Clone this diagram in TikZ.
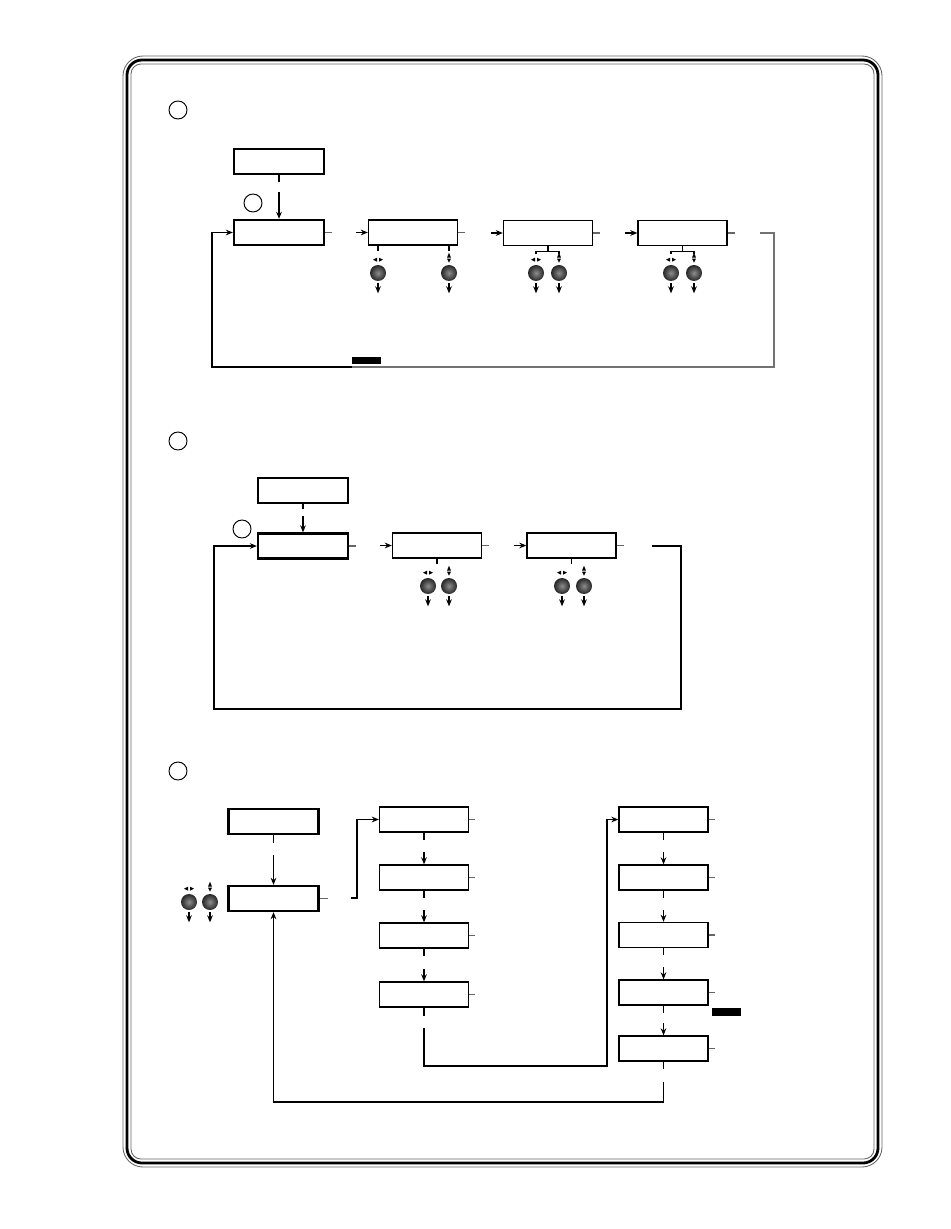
\documentclass[tikz,border=0pt]{standalone}
\usetikzlibrary{positioning,calc,arrows.meta}
\tikzset{
  menubox/.style={draw,line width=1.3pt,minimum width=1.8cm,minimum height=0.5cm,inner sep=0pt},
  subbox/.style={draw,line width=0.75pt,minimum width=1.78cm,minimum height=0.5cm,inner sep=0pt},
  marker/.style={draw,circle,line width=0.55pt,minimum size=0.36cm,inner sep=0pt},
  knobball/.style={circle,minimum size=0.32cm,inner sep=0pt,shading=radial,inner color=black!45,outer color=black!85},
  keybar/.style={fill=black,inner sep=0pt,minimum width=0.58cm,minimum height=0.16cm},
  wire/.style={line width=0.7pt},
  stubline/.style={wire,black!60},
  flow/.style={wire,-{Stealth[length=4pt,width=3.2pt]}},
}
\newcommand{\knob}[4]{%
  \node[knobball] (#1) at (#2,#3) {};
  \coordinate (#1i) at ($(#1.north)+(0,-5)$);
  \ifx h#4
    \fill (#1i) ++(-1,-2) -- ++(0,4) -- ++(-4,-2) -- cycle;
    \fill (#1i) ++(1,-2) -- ++(0,4) -- ++(4,-2) -- cycle;
  \else
    \fill (#1i) ++(-2,-2) -- ++(4,0) -- ++(-2,-5) -- cycle;
    \fill (#1i) ++(-2,-1) -- ++(4,0) -- ++(-2,4) -- cycle;
  \fi
  \draw[flow] ($(#1.south)+(0,2)$) -- ++(0,10);
}

\begin{document}
\begin{tikzpicture}[x=0.02cm,y=-0.02cm]
  \useasboundingbox (0,0) rectangle (950,1229);
  \draw[black!60,line width=0.5pt,rounded corners=0.4cm] (123,56) rectangle (882,1167);
  \draw[line width=1.6pt,rounded corners=0.3cm] (127,60) rectangle (878,1163);
  \draw[black!60,line width=0.5pt,rounded corners=0.2cm] (131,64) rectangle (874,1159);

  % first menu
  \node[marker] (secA) at (178,110) {};
  \node[menubox] (top1) at (279,161.5) {};
  \node[marker] (markA) at (253,203) {};
  \node[menubox] (main1) at (279,232.5) {};
  \node[subbox] (sub1a) at (413,232.5) {};
  \node[subbox] (sub1b) at (548,233) {};
  \node[subbox] (sub1c) at (682.5,233) {};
  \node[keybar] (keyA) at (366,360.5) {};
  \coordinate (retA) at (760,233);
  \draw[wire] (top1.south) -- ++(0,7);
  \draw[flow] ($(main1.north)+(0,-27)$) -- (main1.north);
  \foreach \p in {main1,sub1a,sub1b,sub1c} \draw[stubline] (\p.east) -- ++(7,0);
  \foreach \p in {sub1a,sub1b,sub1c} \draw[flow] ($(\p.west)+(-12,0)$) -- (\p.west);
  \knob{k1}{378}{273}{h} \knob{k2}{449}{273}{v}
  \draw[wire] (k1 |- sub1a.south) -- ++(0,5);
  \draw[wire] (k2 |- sub1a.south) -- ++(0,5);
  \knob{k3}{536}{273}{h} \knob{k4}{559}{273}{v}
  \draw[wire] (sub1b.south) -- ++(0,5) coordinate (brB);
  \draw[wire] ($(k3 |- brB)+(0,3)$) -- (k3 |- brB) -- (k4 |- brB) -- ++(0,3);
  \knob{k5}{671}{273}{h} \knob{k6}{694}{273}{v}
  \draw[wire] (sub1c.south) -- ++(0,5) coordinate (brC);
  \draw[wire] ($(k5 |- brC)+(0,3)$) -- (k5 |- brC) -- (k6 |- brC) -- ++(0,3);
  \draw[wire,black!55] (retA) -| (774,367) -- (352,367);
  \draw[flow] (352,367) -- (212,367) |- (main1.west);

  % second menu
  \node[marker] (secB) at (178,441) {};
  \node[menubox] (top2) at (303,490.5) {};
  \node[marker] (markB) at (242,529) {};
  \node[menubox] (main2) at (303,546) {};
  \node[subbox] (sub2a) at (437,545.5) {};
  \node[subbox] (sub2b) at (571.5,545.5) {};
  \coordinate (retB) at (652,546);
  \draw[wire] (top2.south) -- ++(0,5);
  \draw[flow] ($(main2.north)+(0,-16)$) -- (main2.north);
  \foreach \p in {main2,sub2a,sub2b} \draw[stubline] (\p.east) -- ++(7,0);
  \foreach \p in {sub2a,sub2b} \draw[flow] ($(\p.west)+(-12,0)$) -- (\p.west);
  \knob{k7}{428}{586}{h} \knob{k8}{449}{586}{v}
  \draw[wire] (sub2a.south) -- ++(0,5);
  \knob{k9}{562}{586}{h} \knob{k10}{584}{586}{v}
  \draw[wire] (sub2b.south) -- ++(0,5);
  \draw[flow] (retB) -| (681,709) -- (214,709) |- (main2.west);

  % third menu
  \node[marker] (secC) at (178,771) {};
  \node[menubox] (top3) at (273.5,821.5) {};
  \node[menubox] (main3) at (273.5,898.5) {};
  \knob{k11}{189}{902}{h} \knob{k12}{210}{902}{v}
  \draw[wire] (top3.south) -- ++(0,8);
  \draw[flow] ($(main3.north)+(0,-30)$) -- (main3.north);
  \draw[stubline] (main3.east) -- ++(8,0);
  \foreach \i/\y in {1/819.5,2/877.5,3/935.5,4/994.5}
    \node[subbox] (colB\i) at (424,\y) {};
  \foreach \i/\y in {1/819.5,2/877.5,3/935,4/992.5,5/1048.5}
    \node[subbox] (colC\i) at (663.5,\y) {};
  \foreach \p in {colB1,colB2,colB3,colB4,colC1,colC2,colC3,colC4,colC5}
    \draw[stubline] (\p.east) -- ++(6,0);
  \foreach \p/\q in {colB1/colB2,colB2/colB3,colB3/colB4,colC1/colC2,colC2/colC3,colC3/colC4,colC4/colC5} {
    \draw[wire] (\p.south) -- ++(0,7);
    \draw[flow] ($(\q.north)+(0,-12)$) -- (\q.north);
  }
  \coordinate (jmpB) at (351,898);
  \draw[flow] (jmpB) -- ++(6,0) |- (colB1.west);
  \draw[wire] (colB4.south) -- ++(0,8);
  \coordinate (jmpC) at (424,1028);
  \draw[flow] (jmpC) |- (607,1066) |- (colC1.west);
  \node[keybar] (keyC) at (726.5,1011.5) {};
  \draw[wire] (colC5.south) -- ++(0,7);
  \coordinate (retC) at (663.5,1082);
  \draw[flow] (retC) -- (663.5,1102) -| (main3.south);
\end{tikzpicture}
\end{document}
